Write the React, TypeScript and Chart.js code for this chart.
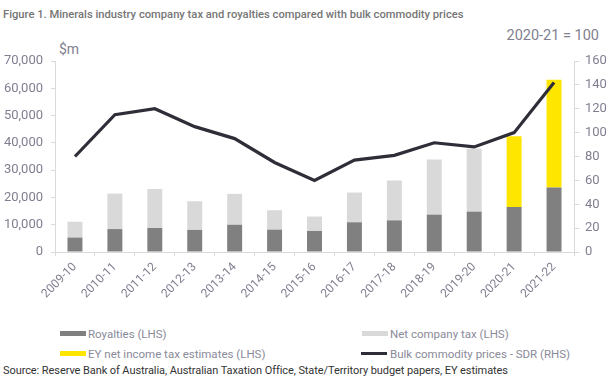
import React, { useEffect, useRef } from "react";
import { Chart, registerables } from "chart.js";

Chart.register(...registerables);

const categories = [
  "2009-10", "2010-11", "2011-12", "2012-13", "2013-14", "2014-15", "2015-16",
  "2016-17", "2017-18", "2018-19", "2019-20", "2020-21", "2021-22",
];
const royalties = [5300, 8400, 8800, 8100, 10000, 8200, 7700, 10900, 11600, 13700, 14800, 16500, 23600];
const netCompanyTax = [5800, 13000, 14300, 10500, 11300, 7100, 5300, 10900, 14600, 20200, 23100, null, null];
const eyEstimates = [null, null, null, null, null, null, null, null, null, null, null, 25900, 39500];
const bulkCommodity = [80, 115, 120, 105, 95, 75, 60, 77, 81, 91.5, 88, 100, 142];
const leftTicks = [0, 10000, 20000, 30000, 40000, 50000, 60000, 70000];
const rightTicks = [0, 20, 40, 60, 80, 100, 120, 140, 160];

const labelColor = "#7f7f91";
const axisColor = "#d9d9d9";
const tickFont = "Roboto";

export default function App() {
  const ref = useRef<HTMLCanvasElement | null>(null);

  useEffect(() => {
    const canvas = ref.current;
    if (!canvas) return;
    const chart = new Chart(canvas, {
      type: "bar",
      data: {
        labels: categories,
        datasets: [
          {
            type: "line",
            label: "Bulk commodity prices - SDR (RHS)",
            data: bulkCommodity,
            yAxisID: "y1",
            borderColor: "#2e2e38",
            backgroundColor: "#2e2e38",
            borderWidth: 3.2,
            pointRadius: 0,
            tension: 0,
            order: 0,
          } as any,
          {
            label: "Royalties (LHS)",
            data: royalties,
            backgroundColor: "#808080",
            yAxisID: "y",
            stack: "s",
            order: 1,
            barPercentage: 0.375,
            categoryPercentage: 1,
          },
          {
            label: "Net company tax (LHS)",
            data: netCompanyTax,
            backgroundColor: "#d9d9d9",
            yAxisID: "y",
            stack: "s",
            order: 1,
            barPercentage: 0.375,
            categoryPercentage: 1,
          },
          {
            label: "EY net income tax estimates (LHS)",
            data: eyEstimates,
            backgroundColor: "#ffe600",
            yAxisID: "y",
            stack: "s",
            order: 1,
            barPercentage: 0.375,
            categoryPercentage: 1,
          },
        ],
      },
      options: {
        animation: false,
        responsive: false,
        maintainAspectRatio: false,
        layout: { padding: { top: 31, bottom: 0, left: 0, right: 0 } },
        plugins: {
          legend: { display: false },
          tooltip: { enabled: false },
          title: { display: false },
        },
        scales: {
          x: {
            stacked: true,
            grid: {
              offset: true,
              drawOnChartArea: false,
              drawTicks: true,
              tickLength: 4,
              color: axisColor,
            },
            border: { color: axisColor },
            ticks: {
              autoSkip: false,
              maxRotation: 45,
              minRotation: 45,
              padding: 4,
              color: labelColor,
              font: { family: tickFont, size: 12 },
            },
            afterFit: (scale: any) => {
              scale.height = 58;
            },
          },
          y: {
            position: "left",
            stacked: true,
            min: 0,
            max: 70000,
            afterBuildTicks: (scale: any) => {
              scale.ticks = leftTicks.map((v) => ({ value: v }));
            },
            grid: {
              drawOnChartArea: false,
              drawTicks: true,
              tickLength: 4,
              color: axisColor,
            },
            border: { color: axisColor },
            ticks: {
              padding: 8,
              color: labelColor,
              font: { family: tickFont, size: 13 },
              callback: (v: any) => Number(v).toLocaleString("en-US"),
            },
            afterFit: (scale: any) => {
              scale.width = 55;
            },
          },
          y1: {
            position: "right",
            min: 0,
            max: 160,
            afterBuildTicks: (scale: any) => {
              scale.ticks = rightTicks.map((v) => ({ value: v }));
            },
            grid: {
              drawOnChartArea: false,
              drawTicks: true,
              tickLength: 5,
              color: axisColor,
            },
            border: { color: axisColor },
            ticks: {
              padding: 6,
              color: labelColor,
              font: { family: tickFont, size: 13 },
            },
            afterFit: (scale: any) => {
              scale.width = 42;
            },
          },
        },
      },
    });
    return () => chart.destroy();
  }, []);

  const legendText: React.CSSProperties = {
    position: "absolute",
    fontFamily: "Roboto",
    fontSize: 11.5,
    color: "#8a8a99",
    whiteSpace: "nowrap",
    lineHeight: "14px",
  };
  const swatch = (left: number, top: number, color: string, h: number): React.CSSProperties => ({
    position: "absolute",
    left,
    top,
    width: 26,
    height: h,
    background: color,
  });

  return (
    <div
      style={{
        position: "absolute",
        left: 0,
        top: 0,
        width: 616,
        height: 381,
        background: "#ffffff",
        overflow: "hidden",
      }}
    >
      <div
        style={{
          position: "absolute",
          left: 3,
          top: 8,
          fontFamily: "Roboto",
          fontSize: 11.2,
          fontWeight: 500,
          color: "#767676",
          whiteSpace: "nowrap",
          lineHeight: "14px",
        }}
      >
        Figure 1. Minerals industry company tax and royalties compared with bulk commodity prices
      </div>
      <div
        style={{
          position: "absolute",
          right: 17,
          top: 27,
          fontFamily: "Roboto",
          fontSize: 14.5,
          color: labelColor,
          whiteSpace: "nowrap",
          lineHeight: "18px",
        }}
      >
        2020-21 = 100
      </div>
      <div
        style={{
          position: "absolute",
          left: 59,
          top: 40,
          fontFamily: "Roboto",
          fontSize: 14,
          color: labelColor,
          whiteSpace: "nowrap",
          lineHeight: "18px",
        }}
      >
        $m
      </div>
      <canvas
        ref={ref}
        width={616}
        height={280}
        style={{ position: "absolute", left: 0, top: 30, width: 616, height: 280 }}
      />
      <div style={swatch(60, 331, "#808080", 5)} />
      <div style={{ ...legendText, left: 88, top: 327 }}>Royalties (LHS)</div>
      <div style={swatch(362, 331, "#d9d9d9", 5)} />
      <div style={{ ...legendText, left: 390, top: 327 }}>Net company tax (LHS)</div>
      <div style={swatch(60, 351, "#ffe600", 5)} />
      <div style={{ ...legendText, left: 88, top: 347 }}>EY net income tax estimates (LHS)</div>
      <div style={swatch(361, 352, "#2e2e38", 3)} />
      <div style={{ ...legendText, left: 390, top: 347 }}>Bulk commodity prices - SDR (RHS)</div>
      <div
        style={{
          position: "absolute",
          left: 3,
          top: 364,
          fontFamily: "Roboto",
          fontSize: 11,
          color: "#333333",
          whiteSpace: "nowrap",
          lineHeight: "14px",
          letterSpacing: -0.08,
        }}
      >
        Source: Reserve Bank of Australia, Australian Taxation Office, State/Territory budget papers, EY estimates
      </div>
    </div>
  );
}
